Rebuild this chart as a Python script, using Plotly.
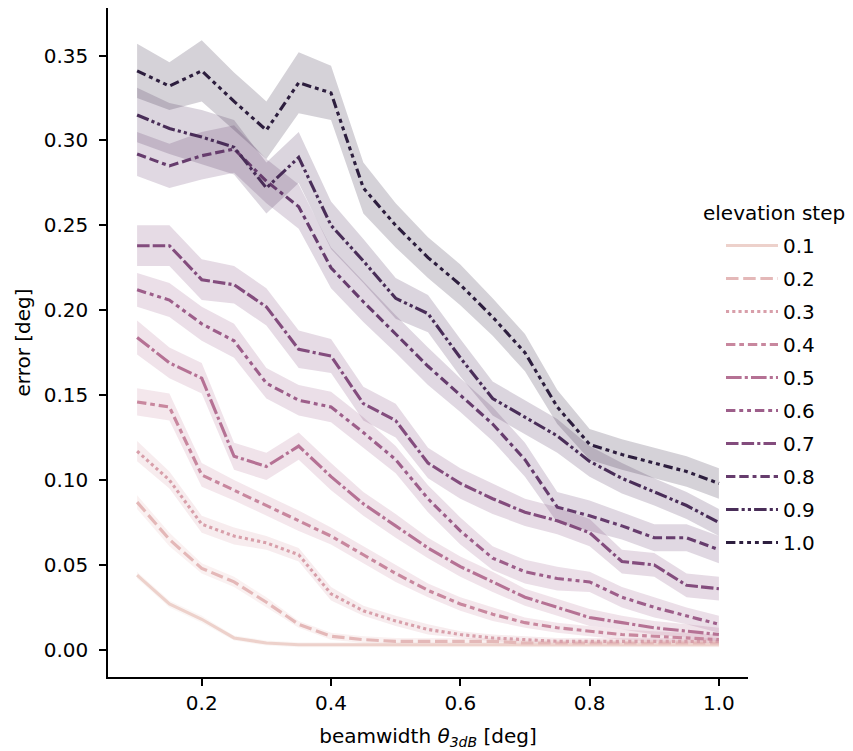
import numpy as np
import plotly.graph_objects as go

# ---------------- data ----------------
beamwidth = [0.10, 0.15, 0.20, 0.25, 0.30, 0.35, 0.40, 0.45, 0.50, 0.55,
             0.60, 0.65, 0.70, 0.75, 0.80, 0.85, 0.90, 0.95, 1.00]

steps = ["0.1", "0.2", "0.3", "0.4", "0.5", "0.6", "0.7", "0.8", "0.9", "1.0"]

err_01 = [0.044, 0.027, 0.018, 0.007, 0.004, 0.003, 0.003, 0.003, 0.003, 0.003,
          0.003, 0.003, 0.003, 0.003, 0.003, 0.003, 0.003, 0.003, 0.003]
err_02 = [0.087, 0.065, 0.048, 0.040, 0.028, 0.015, 0.008, 0.006, 0.005, 0.005,
          0.005, 0.005, 0.004, 0.004, 0.004, 0.004, 0.004, 0.004, 0.004]
err_03 = [0.117, 0.100, 0.074, 0.067, 0.063, 0.056, 0.033, 0.023, 0.017, 0.012,
          0.009, 0.007, 0.006, 0.005, 0.005, 0.005, 0.005, 0.005, 0.005]
err_04 = [0.146, 0.143, 0.103, 0.094, 0.085, 0.076, 0.067, 0.056, 0.045, 0.035,
          0.027, 0.021, 0.016, 0.013, 0.011, 0.009, 0.008, 0.007, 0.006]
err_05 = [0.184, 0.169, 0.160, 0.114, 0.108, 0.120, 0.102, 0.086, 0.073, 0.060,
          0.049, 0.040, 0.031, 0.025, 0.019, 0.016, 0.013, 0.011, 0.009]
err_06 = [0.212, 0.206, 0.192, 0.182, 0.157, 0.147, 0.143, 0.128, 0.112, 0.089,
          0.070, 0.054, 0.046, 0.042, 0.040, 0.031, 0.025, 0.020, 0.015]
err_07 = [0.238, 0.238, 0.218, 0.215, 0.202, 0.177, 0.173, 0.145, 0.135, 0.110,
          0.098, 0.089, 0.081, 0.076, 0.069, 0.052, 0.050, 0.038, 0.036]
err_08 = [0.292, 0.285, 0.291, 0.295, 0.276, 0.261, 0.225, 0.205, 0.186, 0.167,
          0.150, 0.133, 0.112, 0.084, 0.079, 0.073, 0.066, 0.066, 0.059]
err_09 = [0.315, 0.307, 0.302, 0.296, 0.272, 0.290, 0.250, 0.229, 0.207, 0.198,
          0.172, 0.148, 0.137, 0.126, 0.111, 0.101, 0.093, 0.085, 0.075]
err_10 = [0.341, 0.332, 0.341, 0.323, 0.306, 0.334, 0.328, 0.272, 0.250, 0.231,
          0.215, 0.196, 0.175, 0.143, 0.121, 0.115, 0.110, 0.105, 0.098]

# half-width of the 95% confidence band
ci_01 = [0.002, 0.002, 0.002, 0.0015, 0.0015, 0.0015, 0.0015, 0.0015, 0.0015, 0.0015,
         0.0015, 0.0015, 0.0015, 0.0015, 0.0015, 0.0015, 0.0015, 0.0015, 0.0015]
ci_02 = [0.004, 0.004, 0.003, 0.003, 0.003, 0.002, 0.002, 0.002, 0.002, 0.002,
         0.002, 0.002, 0.002, 0.002, 0.002, 0.002, 0.002, 0.002, 0.002]
ci_03 = [0.006, 0.005, 0.005, 0.005, 0.004, 0.004, 0.004, 0.003, 0.003, 0.003,
         0.002, 0.002, 0.002, 0.002, 0.002, 0.002, 0.002, 0.002, 0.002]
ci_04 = [0.008, 0.008, 0.007, 0.006, 0.006, 0.006, 0.005, 0.005, 0.005, 0.004,
         0.004, 0.004, 0.003, 0.003, 0.003, 0.003, 0.003, 0.003, 0.003]
ci_05 = [0.010, 0.009, 0.009, 0.008, 0.008, 0.008, 0.008, 0.007, 0.007, 0.006,
         0.006, 0.006, 0.005, 0.005, 0.005, 0.004, 0.004, 0.004, 0.004]
ci_06 = [0.010, 0.010, 0.010, 0.010, 0.009, 0.009, 0.009, 0.009, 0.008, 0.008,
         0.008, 0.007, 0.007, 0.007, 0.006, 0.006, 0.006, 0.005, 0.005]
ci_07 = [0.012, 0.012, 0.012, 0.011, 0.011, 0.011, 0.010, 0.010, 0.010, 0.009,
         0.009, 0.009, 0.008, 0.008, 0.008, 0.007, 0.007, 0.007, 0.007]
ci_08 = [0.013, 0.013, 0.014, 0.014, 0.013, 0.013, 0.012, 0.012, 0.011, 0.011,
         0.010, 0.010, 0.010, 0.009, 0.009, 0.008, 0.008, 0.008, 0.008]
ci_09 = [0.016, 0.015, 0.016, 0.016, 0.015, 0.015, 0.014, 0.013, 0.012, 0.011,
         0.011, 0.010, 0.010, 0.010, 0.009, 0.009, 0.008, 0.008, 0.008]
ci_10 = [0.016, 0.014, 0.018, 0.017, 0.017, 0.018, 0.016, 0.015, 0.013, 0.012,
         0.012, 0.011, 0.011, 0.010, 0.009, 0.009, 0.009, 0.009, 0.009]

errors = [err_01, err_02, err_03, err_04, err_05, err_06, err_07, err_08, err_09, err_10]
cis = [ci_01, ci_02, ci_03, ci_04, ci_05, ci_06, ci_07, ci_08, ci_09, ci_10]

# ---------------- style ----------------
def cubehelix(t, start=0.0, rot=0.4, gamma=1.0, hue=0.8, light=0.85, dark=0.15):
    x = light + (dark - light) * t
    xg = x ** gamma
    a = hue * xg * (1 - xg) / 2
    phi = 2 * np.pi * (start / 3 + rot * x)
    r = xg + a * (-0.14861 * np.cos(phi) + 1.78277 * np.sin(phi))
    g = xg + a * (-0.29227 * np.cos(phi) - 0.90649 * np.sin(phi))
    b = xg + a * (1.97294 * np.cos(phi))
    return tuple(int(round(255 * min(1, max(0, c)))) for c in (r, g, b))

UNIT = 1.5 * 150 / 72  # linewidth (pt) * px/pt
dash_specs = [
    None,
    (4, 1.5),
    (1, 1),
    (3, 1.25, 1.5, 1.25),
    (5, 1, 1, 1),
    (3, 1.25, 1.25, 1.25, 1.25, 1.25),
    (4, 1, 4, 1, 1, 1),
    (3, 1.25, 3, 1.25, 1.25, 1.25),
    (4, 1, 1, 1, 1, 1),
    (3, 1.25, 1.25, 1.25, 1.25, 1.25, 1.25, 1.25),
]

def dash_str(spec):
    if spec is None:
        return "solid"
    return ",".join(f"{v * UNIT:.2f}px" for v in spec)

FONT = "DejaVu Sans"
fig = go.Figure()

n = len(steps)
colors = [cubehelix(i / (n - 1)) for i in range(n)]

# confidence bands (drawn beneath all lines)
for err, ci, col in zip(errors, cis, colors):
    upper = [e + c for e, c in zip(err, ci)]
    lower = [e - c for e, c in zip(err, ci)]
    fig.add_trace(go.Scatter(
        x=beamwidth + beamwidth[::-1],
        y=upper + lower[::-1],
        fill="toself",
        fillcolor=f"rgba({col[0]},{col[1]},{col[2]},0.2)",
        line=dict(width=0),
        mode="lines",
        hoverinfo="skip",
        showlegend=False,
    ))

for name, err, col, spec in zip(steps, errors, colors, dash_specs):
    fig.add_trace(go.Scatter(
        x=beamwidth, y=err, mode="lines", name=name,
        legendgroup=name,
        line=dict(color=f"rgb({col[0]},{col[1]},{col[2]})", width=UNIT,
                  dash=dash_str(spec)),
    ))

L, R, T, B = 108, 105, 8, 74
W, H = 853, 751
pw, ph = W - L - R, H - T - B

def px_x(px):
    return (px - L) / pw

def px_y(py):
    return 1 - (py - T) / ph

fig.update_layout(
    width=W, height=H,
    margin=dict(l=L, r=R, t=T, b=B, autoexpand=False),
    paper_bgcolor="white", plot_bgcolor="white",
    font=dict(family=FONT, size=20, color="black"),
    showlegend=True,
    legend=dict(
        x=px_x(721), y=px_y(226), xanchor="left", yanchor="top",
        bgcolor="rgba(0,0,0,0)", borderwidth=0,
        font=dict(family=FONT, size=20, color="black"),
        itemwidth=52, tracegroupgap=4, traceorder="grouped",
    ),
    annotations=[dict(
        text="elevation step", x=px_x(774), y=px_y(213),
        xref="paper", yref="paper", xanchor="center", yanchor="middle",
        showarrow=False, font=dict(family=FONT, size=20, color="black"),
    )],
)

fig.update_xaxes(
    range=[0.055, 1.045],
    tickvals=[0.2, 0.4, 0.6, 0.8, 1.0],
    ticktext=["0.2", "0.4", "0.6", "0.8", "1.0"],
    ticks="outside", ticklen=7, tickwidth=1.6, tickcolor="black",
    showline=True, linecolor="black", linewidth=1.6, mirror=False,
    showgrid=False, zeroline=False,
    title=dict(text="beamwidth <i>θ</i><sub><i>3dB</i></sub> [deg]",
               font=dict(family=FONT, size=20, color="black"), standoff=15),
    tickfont=dict(family=FONT, size=20, color="black"),
)
fig.update_yaxes(
    range=[-0.016, 0.378],
    tickvals=[0.0, 0.05, 0.10, 0.15, 0.20, 0.25, 0.30, 0.35],
    ticktext=["0.00", "0.05", "0.10", "0.15", "0.20", "0.25", "0.30", "0.35"],
    ticks="outside", ticklen=7, tickwidth=1.6, tickcolor="black",
    ticklabelstandoff=7,
    showline=True, linecolor="black", linewidth=1.6, mirror=False,
    showgrid=False, zeroline=False,
    title=dict(text="error [deg]",
               font=dict(family=FONT, size=20, color="black"), standoff=8),
    tickfont=dict(family=FONT, size=20, color="black"),
)

fig.write_html(
    "out.html",
    config={"displayModeBar": False},
    post_script="document.body.style.margin='0';document.body.style.padding='0';",
)
